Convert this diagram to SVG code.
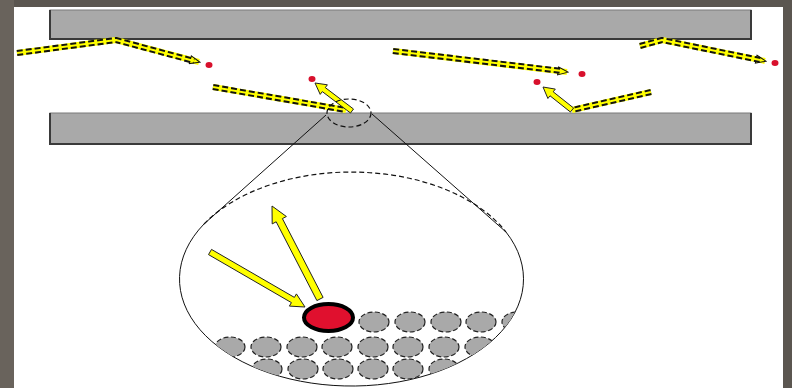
<svg xmlns="http://www.w3.org/2000/svg" width="792" height="388" viewBox="0 0 792 388">
  <style>
    .plate { fill: #a9a9a9; stroke: #7a7a7a; stroke-width: 1; }
    .plate-edge { fill: none; stroke: #3a3a3a; stroke-width: 2; }
    .ray-base { fill: none; stroke: #ffff00; stroke-width: 6; stroke-linejoin: round; }
    .ray-dash { fill: none; stroke: #111; stroke-width: 6; stroke-dasharray: 6 3; stroke-linejoin: round; }
    .ray-core { fill: none; stroke: #ffff00; stroke-width: 2; stroke-linejoin: round; }
    .beam { fill: #ffff00; stroke: #222; stroke-width: 1; stroke-linejoin: round; }
    .dot { fill: #d8102c; }
    .cone { fill: none; stroke: #111; stroke-width: 1; }
    .dashed { fill: none; stroke: #111; stroke-width: 1.2; stroke-dasharray: 5 3; }
    .site { fill: #a9a9a9; stroke: #222; stroke-width: 1.2; stroke-dasharray: 5 2.5; }
  </style>
  <defs>
    <marker id="head" markerUnits="userSpaceOnUse" markerWidth="12" markerHeight="10" refX="10" refY="5" orient="auto">
      <path d="M1,1 L11,5 L1,9 z" fill="#ffff00" stroke="#111" stroke-width="1"/>
    </marker>
    <clipPath id="lens">
      <ellipse cx="351.5" cy="279" rx="172" ry="107"/>
    </clipPath>
  </defs>

  <!-- frame -->
  <rect x="0" y="0" width="792" height="388" fill="#5b5650"/>
  <rect x="0" y="0" width="14" height="388" fill="#69635c"/>
  <rect x="14" y="7" width="769" height="381" fill="#ffffff"/>

  <!-- plates -->
  <g id="top-plate">
    <rect class="plate" x="50" y="10" width="701" height="29"/>
    <path class="plate-edge" d="M50,10 V39 H751 V10"/>
  </g>
  <g id="bottom-plate">
    <rect class="plate" x="50" y="113" width="701" height="31"/>
    <path class="plate-edge" d="M50,113 V144 H751 V113"/>
  </g>

  <!-- rays between the plates -->
  <g id="rays">
    <g id="ray-1">
      <path class="ray-base" d="M17,53 L116,40 L199,62" marker-end="url(#head)"/>
      <path class="ray-dash" d="M17,53 L116,40 L194,61"/>
      <path class="ray-core" d="M17,53 L116,40 L194,61"/>
    </g>
    <g id="ray-2">
      <path class="ray-base" d="M213,87 L346,110"/>
      <path class="ray-dash" d="M213,87 L346,110"/>
      <path class="ray-core" d="M213,87 L346,110"/>
      <polygon class="beam" points="353.5,109 325.3,87.6 327.4,84.8 315,83 320.2,94.4 322.3,91.6 350.5,113"/>
    </g>
    <g id="ray-3">
      <path class="ray-base" d="M393,51 L567,72" marker-end="url(#head)"/>
      <path class="ray-dash" d="M393,51 L562,71"/>
      <path class="ray-core" d="M393,51 L562,71"/>
    </g>
    <g id="ray-4">
      <path class="ray-base" d="M651,92 L572,110"/>
      <path class="ray-dash" d="M651,92 L572,110"/>
      <path class="ray-core" d="M651,92 L572,110"/>
      <polygon class="beam" points="573.6,108 553.2,91.8 555.3,89.1 543,87 547.9,98.5 550,95.8 570.4,112"/>
    </g>
    <g id="ray-5">
      <path class="ray-base" d="M640,46 L662,40 L765,61" marker-end="url(#head)"/>
      <path class="ray-dash" d="M640,46 L662,40 L760,60"/>
      <path class="ray-core" d="M640,46 L662,40 L760,60"/>
    </g>
  </g>

  <!-- emitted particles -->
  <g id="particles">
    <ellipse class="dot" cx="209" cy="65" rx="3.5" ry="3"/>
    <ellipse class="dot" cx="312" cy="79" rx="3.5" ry="3"/>
    <ellipse class="dot" cx="582" cy="74" rx="3.5" ry="3"/>
    <ellipse class="dot" cx="537" cy="82" rx="3.5" ry="3"/>
    <ellipse class="dot" cx="775" cy="63" rx="3.5" ry="3"/>
  </g>

  <!-- magnified view of the impact point -->
  <g id="magnifier">
    <ellipse class="dashed" cx="349" cy="113" rx="22" ry="14"/>
    <line class="cone" x1="326" y1="115" x2="204" y2="224"/>
    <line class="cone" x1="372" y1="114" x2="506" y2="232"/>
    <path class="dashed" d="M204,224 A172,107 0 0 1 506,232"/>
    <path class="cone" d="M204,224 A172,107 0 1 0 506,232"/>
  </g>

  <!-- surface atoms -->
  <g id="surface" clip-path="url(#lens)">
    <g id="row-1">
      <ellipse class="site" cx="374" cy="322" rx="15" ry="10"/>
      <ellipse class="site" cx="410" cy="322" rx="15" ry="10"/>
      <ellipse class="site" cx="446" cy="322" rx="15" ry="10"/>
      <ellipse class="site" cx="481" cy="322" rx="15" ry="10"/>
      <ellipse class="site" cx="517" cy="322" rx="15" ry="10"/>
    </g>
    <g id="row-2">
      <ellipse class="site" cx="230" cy="347" rx="15" ry="10"/>
      <ellipse class="site" cx="266" cy="347" rx="15" ry="10"/>
      <ellipse class="site" cx="302" cy="347" rx="15" ry="10"/>
      <ellipse class="site" cx="337" cy="347" rx="15" ry="10"/>
      <ellipse class="site" cx="373" cy="347" rx="15" ry="10"/>
      <ellipse class="site" cx="408" cy="347" rx="15" ry="10"/>
      <ellipse class="site" cx="444" cy="347" rx="15" ry="10"/>
      <ellipse class="site" cx="480" cy="347" rx="15" ry="10"/>
    </g>
    <g id="row-3">
      <ellipse class="site" cx="267" cy="369" rx="15" ry="10"/>
      <ellipse class="site" cx="303" cy="369" rx="15" ry="10"/>
      <ellipse class="site" cx="338" cy="369" rx="15" ry="10"/>
      <ellipse class="site" cx="373" cy="369" rx="15" ry="10"/>
      <ellipse class="site" cx="408" cy="369" rx="15" ry="10"/>
      <ellipse class="site" cx="444" cy="369" rx="15" ry="10"/>
    </g>
  </g>

  <!-- incoming and scattered beams -->
  <g id="beams">
    <polygon id="beam-in" class="beam" points="211.5,249.4 294.4,297.4 296.4,293.9 305,307 289.4,306.1 291.4,302.6 208.5,254.6"/>
    <polygon id="beam-out" class="beam" points="323.1,297.4 282.4,218.6 286.4,216.5 272,206 272.2,223.9 276.2,221.8 316.9,300.6"/>
  </g>

  <g id="target-atom">
    <ellipse cx="328.5" cy="317.5" rx="24.5" ry="13.5" fill="#e0102e" stroke="#000" stroke-width="4"/>
  </g>
</svg>
